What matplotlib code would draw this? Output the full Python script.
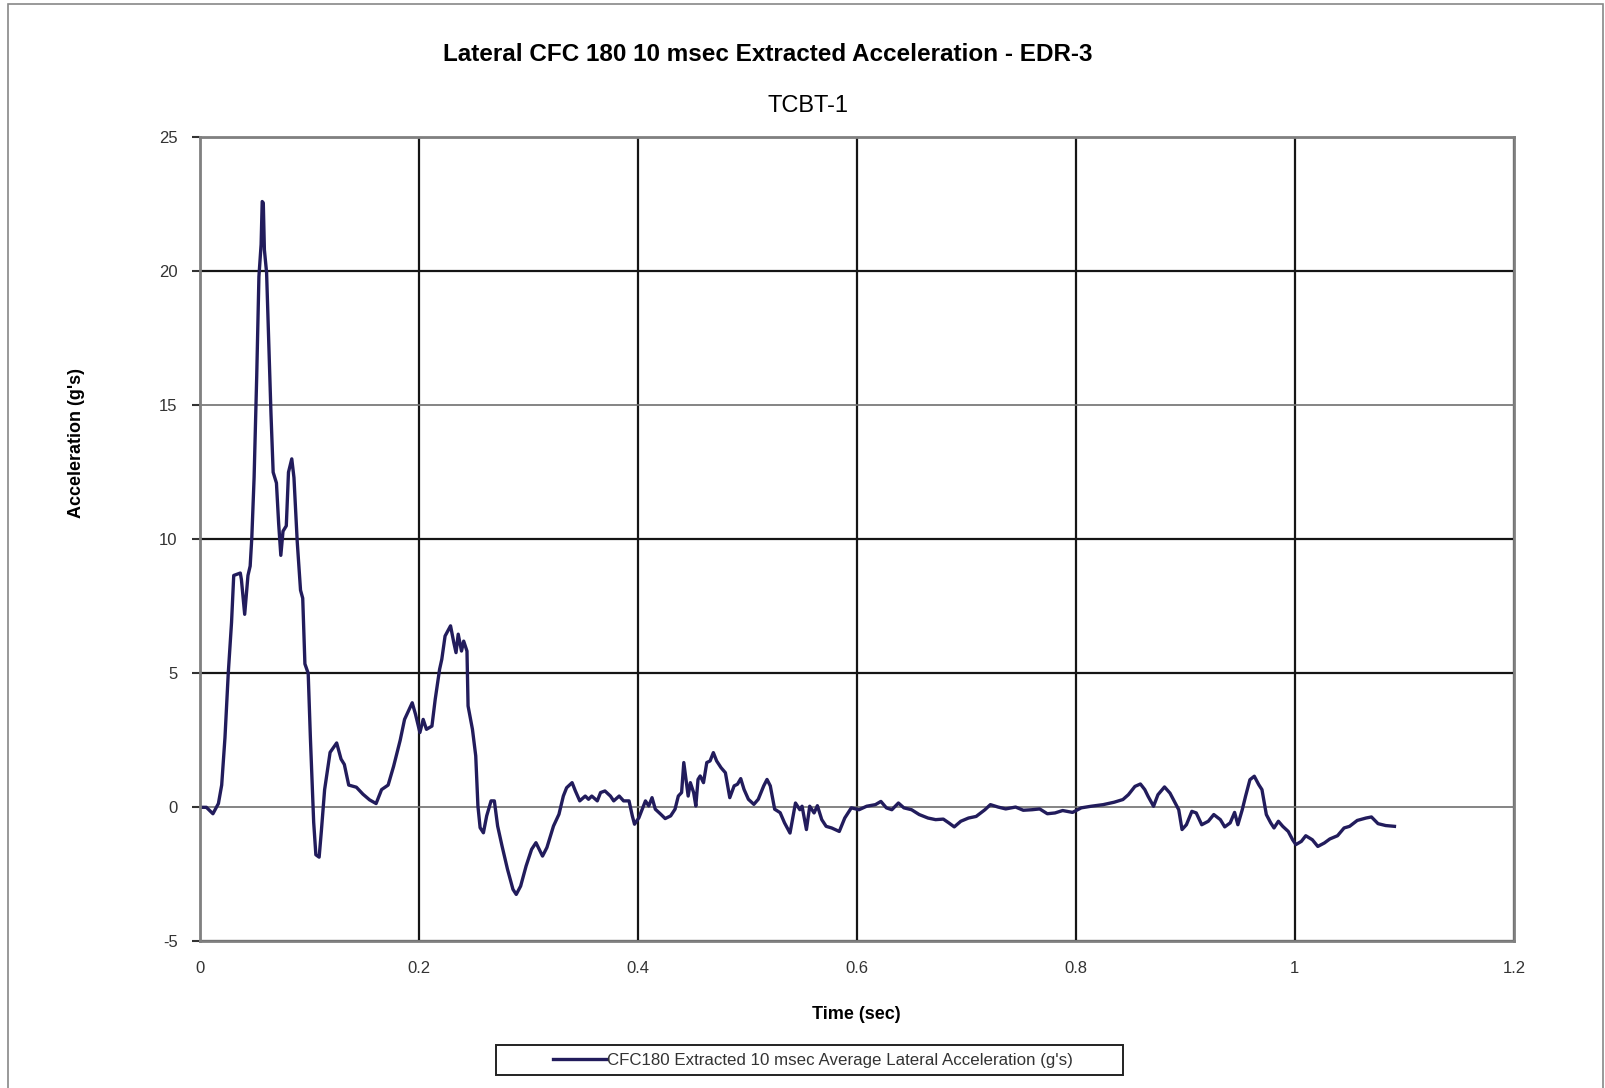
import numpy as np
import matplotlib.pyplot as plt
from matplotlib.patches import Rectangle

# time (sec) / lateral acceleration (g's)
time_s = [
    0.000, 0.006, 0.012, 0.017, 0.020, 0.023, 0.026, 0.029, 0.031, 0.037,
    0.038, 0.041, 0.044, 0.046, 0.0475, 0.0496, 0.052, 0.054, 0.056, 0.057,
    0.058, 0.059, 0.061, 0.063, 0.065, 0.067, 0.070, 0.072, 0.074, 0.076,
    0.079, 0.081, 0.084, 0.086, 0.089, 0.092, 0.094, 0.096, 0.099, 0.101,
    0.104, 0.106, 0.109, 0.111, 0.114, 0.119, 0.125, 0.129, 0.132, 0.136,
    0.143, 0.149, 0.155, 0.161, 0.166, 0.172, 0.177, 0.183, 0.187, 0.194,
    0.197, 0.201, 0.204, 0.207, 0.212, 0.215, 0.219, 0.221, 0.224, 0.229,
    0.232, 0.234, 0.236, 0.239, 0.241, 0.244, 0.245, 0.249, 0.252, 0.254,
    0.256, 0.259, 0.262, 0.266, 0.269, 0.272, 0.276, 0.281, 0.286, 0.289,
    0.293, 0.298, 0.303, 0.307, 0.310, 0.313, 0.317, 0.323, 0.328, 0.332,
    0.335, 0.340, 0.343, 0.347, 0.352, 0.355, 0.358, 0.363, 0.366, 0.370,
    0.375, 0.378, 0.383, 0.387, 0.392, 0.395, 0.397, 0.401, 0.404, 0.407,
    0.410, 0.413, 0.416, 0.421, 0.425, 0.430, 0.434, 0.437, 0.440, 0.442,
    0.444, 0.446, 0.448, 0.451, 0.453, 0.455, 0.457, 0.460, 0.463, 0.466,
    0.469, 0.472, 0.476, 0.480, 0.484, 0.488, 0.491, 0.494, 0.497, 0.501,
    0.506, 0.510, 0.515, 0.518, 0.521, 0.525, 0.530, 0.534, 0.539, 0.544,
    0.548, 0.550, 0.554, 0.557, 0.561, 0.564, 0.568, 0.572, 0.577, 0.584,
    0.589, 0.595, 0.602, 0.609, 0.617, 0.622, 0.627, 0.632, 0.638, 0.643,
    0.650, 0.657, 0.665, 0.672, 0.679, 0.684, 0.689, 0.695, 0.702, 0.709,
    0.717, 0.722, 0.729, 0.736, 0.745, 0.752, 0.760, 0.767, 0.774, 0.781,
    0.788, 0.797, 0.805, 0.814, 0.825, 0.835, 0.843, 0.848, 0.854, 0.859,
    0.863, 0.866, 0.871, 0.875, 0.881, 0.886, 0.890, 0.894, 0.897, 0.901,
    0.906, 0.910, 0.915, 0.921, 0.926, 0.932, 0.936, 0.941, 0.945, 0.948,
    0.952, 0.955, 0.959, 0.963, 0.967, 0.970, 0.974, 0.978, 0.981, 0.985,
    0.989, 0.994, 0.998, 1.001, 1.006, 1.010, 1.016, 1.021, 1.027, 1.032,
    1.039, 1.045, 1.050, 1.057, 1.065, 1.070, 1.076, 1.083, 1.091,
]
accel_g = [
    0.00, 0.00, -0.24, 0.14, 0.83, 2.60, 5.00, 6.90, 8.65, 8.74,
    8.50, 7.20, 8.65, 9.00, 10.05, 12.30, 16.10, 19.80, 21.00, 22.60,
    22.55, 20.80, 19.95, 17.30, 14.70, 12.50, 12.10, 10.60, 9.40, 10.30,
    10.50, 12.50, 13.00, 12.30, 9.90, 8.10, 7.80, 5.35, 5.00, 2.60,
    -0.55, -1.77, -1.86, -0.90, 0.66, 2.05, 2.40, 1.80, 1.60, 0.83,
    0.75, 0.49, 0.28, 0.14, 0.66, 0.83, 1.53, 2.50, 3.28, 3.90,
    3.47, 2.79, 3.28, 2.91, 3.03, 4.03, 5.15, 5.52, 6.39, 6.77,
    6.14, 5.77, 6.46, 5.83, 6.20, 5.83, 3.78, 2.91, 1.92, 0.05,
    -0.76, -0.95, -0.32, 0.24, 0.24, -0.70, -1.44, -2.31, -3.06, -3.25,
    -2.94, -2.19, -1.57, -1.32, -1.57, -1.82, -1.50, -0.70, -0.26, 0.42,
    0.73, 0.92, 0.61, 0.24, 0.42, 0.30, 0.42, 0.24, 0.55, 0.61,
    0.42, 0.24, 0.42, 0.24, 0.24, -0.32, -0.63, -0.39, -0.07, 0.24,
    0.05, 0.36, -0.07, -0.26, -0.42, -0.32, -0.07, 0.42, 0.55, 1.67,
    1.04, 0.42, 0.92, 0.55, 0.05, 1.04, 1.17, 0.92, 1.67, 1.73,
    2.04, 1.73, 1.48, 1.29, 0.36, 0.80, 0.86, 1.07, 0.67, 0.30,
    0.11, 0.30, 0.80, 1.04, 0.80, -0.07, -0.20, -0.58, -0.96, 0.16,
    -0.09, 0.04, -0.83, 0.04, -0.21, 0.06, -0.46, -0.71, -0.77, -0.90,
    -0.40, -0.02, -0.09, 0.04, 0.10, 0.22, -0.02, -0.09, 0.16, -0.02,
    -0.09, -0.27, -0.40, -0.46, -0.44, -0.58, -0.73, -0.52, -0.40, -0.34,
    -0.09, 0.10, 0.01, -0.06, 0.01, -0.11, -0.09, -0.06, -0.24, -0.21,
    -0.12, -0.19, -0.02, 0.04, 0.10, 0.19, 0.29, 0.47, 0.78, 0.87,
    0.66, 0.41, 0.04, 0.47, 0.76, 0.53, 0.22, -0.09, -0.83, -0.65,
    -0.15, -0.21, -0.65, -0.52, -0.27, -0.46, -0.73, -0.58, -0.19, -0.65,
    -0.09, 0.41, 1.03, 1.16, 0.85, 0.66, -0.27, -0.58, -0.77, -0.52,
    -0.71, -0.90, -1.21, -1.39, -1.27, -1.06, -1.21, -1.46, -1.33, -1.18,
    -1.06, -0.77, -0.71, -0.49, -0.40, -0.36, -0.61, -0.68, -0.71,
]

x_ticks = [0, 0.2, 0.4, 0.6, 0.8, 1, 1.2]
x_labels = ['0', '0.2', '0.4', '0.6', '0.8', '1', '1.2']
y_ticks = [-5, 0, 5, 10, 15, 20, 25]

plt.rcParams['axes.unicode_minus'] = False
narrow = ['Liberation Sans Narrow', 'Liberation Sans', 'DejaVu Sans']
plain = ['Liberation Sans', 'DejaVu Sans']

fig = plt.figure(figsize=(16.06, 10.88), dpi=100)
ax = fig.add_axes([0.1244, 0.1348, 0.8182, 0.7391])

ax.plot(time_s, accel_g, color='#221c5c', lw=2.4,
        label="CFC180 Extracted 10 msec Average Lateral Acceleration (g's)")

ax.set_xlim(0, 1.2)
ax.set_ylim(-5, 25)
ax.set_xticks(x_ticks)
ax.set_xticklabels(x_labels)
ax.set_yticks(y_ticks)

ax.grid(True, color='#151515', lw=1.6)
for val, gl in zip(y_ticks, ax.get_ygridlines()):
    if val in (0, 15):
        gl.set_color('#707070')
        gl.set_linewidth(1.2)
ax.set_axisbelow(True)

for sp in ax.spines.values():
    sp.set_color('#808080')
    sp.set_linewidth(2)

ax.tick_params(axis='y', direction='out', length=6, width=1.5, color='#333333', pad=10)
ax.tick_params(axis='x', length=0, pad=14)
for lab in ax.get_xticklabels() + ax.get_yticklabels():
    lab.set_family(plain)
    lab.set_fontsize(12)
    lab.set_color('#333333')

ax.set_xlabel('Time (sec)', family=narrow, fontsize=13, fontweight='bold', labelpad=22)
ax.set_ylabel("Acceleration (g's)", family=narrow, fontsize=13, fontweight='bold')
ax.yaxis.set_label_coords(-0.0876, 0.62)

fig.text(0.478, 0.950, 'Lateral CFC 180 10 msec Extracted Acceleration - EDR-3',
         ha='center', va='center', family=narrow, fontsize=17.5, fontweight='bold')
fig.text(0.503, 0.903, 'TCBT-1', ha='center', va='center', family=narrow, fontsize=17)

leg = fig.legend(loc='center', bbox_to_anchor=(0.506, 0.0257), frameon=False,
                 handlelength=3.2, handletextpad=0, borderpad=0.3,
                 prop={'family': plain, 'size': 12.2})
for t in leg.get_texts():
    t.set_color('#333333')
# wide legend frame as in the reference
fig.patches.append(Rectangle((0.3087, 0.0116), 0.3903, 0.0282,
                             transform=fig.transFigure, fill=False,
                             edgecolor='#222222', lw=1.4))

# thin outer border of the chart area
fig.patches.append(Rectangle((8 / 1606, -0.01), 1595 / 1606, 1 - 4 / 1088 + 0.01,
                             transform=fig.transFigure, fill=False,
                             edgecolor='#888888', lw=1.2))

plt.savefig('out.png', dpi=100)
